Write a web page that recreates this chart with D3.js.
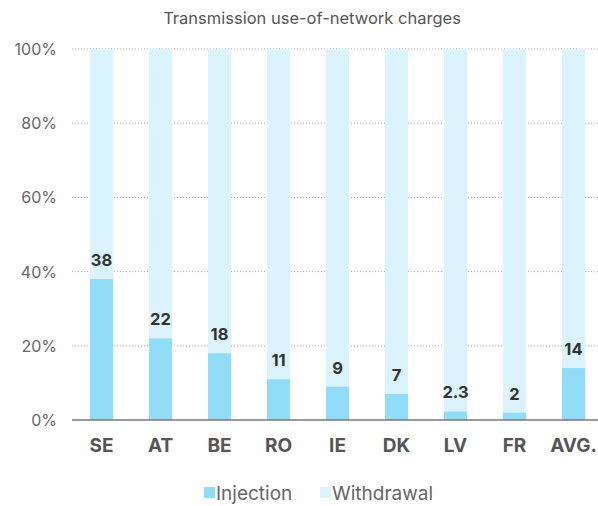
<!DOCTYPE html>
<html>
<head>
<meta charset="utf-8">
<script src="https://cdn.jsdelivr.net/npm/d3@7"></script>
<style>
  body { margin: 0; background: #fff; font-family: Inter, "Open Sans", sans-serif; }
</style>
</head>
<body>
<div id="chart"></div>
<script>
// Chart data
const countries = ["SE", "AT", "BE", "RO", "IE", "DK", "LV", "FR", "AVG."];
const injection = [38, 22, 18, 11, 9, 7, 2.3, 2, 14];
const labels = ["38", "22", "18", "11", "9", "7", "2.3", "2", "14"];
const yTicks = [0, 20, 40, 60, 80, 100];
const seriesNames = ["Injection", "Withdrawal"];

const colors = { Injection: "#91dcf6", Withdrawal: "#dbf3fc" };

const W = 598, H = 506;
const margin = { left: 72, top: 49, bottom: 420, right: 598 };

const svg = d3.select("#chart").append("svg")
  .attr("width", W)
  .attr("height", H);

// Scales
const x = d3.scaleBand()
  .domain(countries)
  .range([margin.left, margin.left + 59 * 9])
  .paddingInner(0.61)
  .paddingOuter(0.305);

const y = d3.scaleLinear()
  .domain([0, 100])
  .range([margin.bottom, margin.top]);

// Title
svg.append("text")
  .attr("x", 312)
  .attr("y", 24)
  .attr("text-anchor", "middle")
  .style("font-size", "16.5px")
  .style("fill", "#555")
  .text("Transmission use-of-network charges");

// Gridlines
svg.append("g")
  .selectAll("line")
  .data(yTicks.filter(d => d > 0))
  .enter()
  .append("line")
  .attr("x1", margin.left)
  .attr("x2", margin.right)
  .attr("y1", d => y(d))
  .attr("y2", d => y(d))
  .attr("stroke", "#aaa")
  .attr("stroke-width", 1)
  .attr("stroke-dasharray", "1,2");

// Y tick labels
svg.append("g")
  .selectAll("text")
  .data(yTicks)
  .enter()
  .append("text")
  .attr("x", 57)
  .attr("y", d => y(d) + 6)
  .attr("text-anchor", "end")
  .style("font-size", "16px")
  .style("fill", "#666")
  .text(d => d + "%");

// Withdrawal (rest of 100%)
svg.append("g")
  .selectAll("rect")
  .data(countries)
  .enter()
  .append("rect")
  .attr("x", d => x(d))
  .attr("width", x.bandwidth())
  .attr("y", y(100))
  .attr("height", (d, i) => y(injection[i]) - y(100))
  .attr("fill", colors.Withdrawal);

// Injection bars
svg.append("g")
  .selectAll("rect")
  .data(countries)
  .enter()
  .append("rect")
  .attr("x", d => x(d))
  .attr("width", x.bandwidth())
  .attr("y", (d, i) => y(injection[i]))
  .attr("height", (d, i) => y(0) - y(injection[i]))
  .attr("fill", colors.Injection);

// Value labels
svg.append("g")
  .selectAll("text")
  .data(countries)
  .enter()
  .append("text")
  .attr("x", d => x(d) + x.bandwidth() / 2)
  .attr("y", (d, i) => y(injection[i]) - 13)
  .attr("text-anchor", "middle")
  .style("font-size", "16.5px")
  .style("font-weight", "bold")
  .style("fill", "#333")
  .text((d, i) => labels[i]);

// Baseline
svg.append("line")
  .attr("x1", margin.left)
  .attr("x2", margin.right)
  .attr("y1", y(0))
  .attr("y2", y(0))
  .attr("stroke", "#777")
  .attr("stroke-width", 1.5);

// X axis labels
svg.append("g")
  .selectAll("text")
  .data(countries)
  .enter()
  .append("text")
  .attr("x", d => x(d) + x.bandwidth() / 2)
  .attr("y", 452)
  .attr("text-anchor", "middle")
  .style("font-size", "19px")
  .style("font-weight", "bold")
  .style("fill", "#555")
  .text(d => d);

// Legend
const legendPos = [204, 320];
const legend = svg.append("g");
seriesNames.forEach((name, i) => {
  legend.append("rect")
    .attr("x", legendPos[i])
    .attr("y", 487)
    .attr("width", 11)
    .attr("height", 11)
    .attr("fill", colors[name]);
  legend.append("text")
    .attr("x", legendPos[i] + 12)
    .attr("y", 500)
    .style("font-size", "19px")
    .style("fill", "#666")
    .text(name);
});
</script>
</body>
</html>
